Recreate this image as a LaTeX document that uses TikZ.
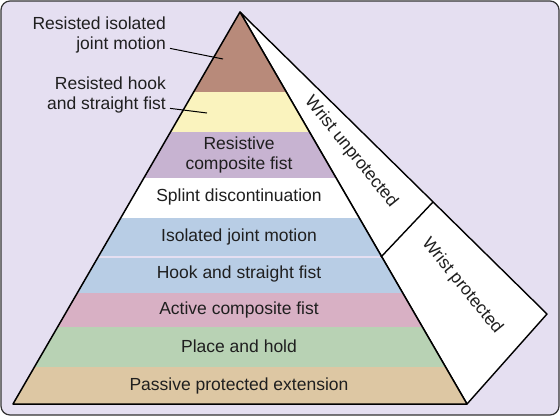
\documentclass[tikz,border=0pt]{standalone}
\usepackage{fontspec}
\setmainfont{Liberation Sans}

\definecolor{bglav}{RGB}{229,223,241}
\definecolor{brownb}{RGB}{184,138,122}
\definecolor{yellowb}{RGB}{250,243,190}
\definecolor{purpleb}{RGB}{199,179,209}
\definecolor{blueb}{RGB}{184,205,229}
\definecolor{pinkb}{RGB}{216,176,196}
\definecolor{greenb}{RGB}{184,210,180}
\definecolor{tanb}{RGB}{221,199,163}

\begin{document}
\begin{tikzpicture}[x=1pt, y=-1pt, font=\fontsize{17.5}{20}\selectfont, text=black!88]
  \useasboundingbox (0,0) rectangle (560,416);
  % frame
  \draw[fill=bglav, draw=black!80, line width=1.2pt, rounded corners=9pt] (1,1) rectangle (559,415);

  % wrist band on the right
  \draw[fill=white, line width=1.4pt, line join=round] (240,12) -- (547,314) -- (467,404) -- cycle;
  \draw[line width=1.4pt] (433,202) -- (381,257);
  \node[rotate=-51] (wunprot) at (351,152) {Wrist unprotected};
  \node[rotate=-51] (wprot) at (462,286) {Wrist protected};

  % bands, top to bottom
  \begin{scope}
    \clip (240,12) -- (467,404) -- (13,404) -- cycle;
    \fill[brownb]  (0,0)   rectangle (560,92);
    \fill[yellowb] (0,92)  rectangle (560,132);
    \fill[purpleb] (0,132) rectangle (560,178);
    \fill[white]   (0,178) rectangle (560,218);
    \fill[blueb]   (0,218) rectangle (560,256);
    \fill[blueb]   (0,258) rectangle (560,293);
    \fill[pinkb]   (0,293) rectangle (560,327);
    \fill[greenb]  (0,327) rectangle (560,367);
    \fill[tanb]    (0,367) rectangle (560,404);
  \end{scope}
  \draw[line width=1.5pt, line join=round] (240,12) -- (467,404) -- (13,404) -- cycle;

  \node[align=center] (rescomp) at (239,155) {Resistive\\composite fist};
  \node (splint) at (239,197) {Splint discontinuation};
  \node (isojoint) at (239,237) {Isolated joint motion};
  \node (hook) at (239,274) {Hook and straight fist};
  \node (actcomp) at (239,310) {Active composite fist};
  \node (place) at (239,346) {Place and hold};
  \node (passive) at (239,386) {Passive protected extension};

  % labels outside, with leader lines
  \node[anchor=east, align=right, inner sep=0pt] (resiso) at (166,35) {Resisted isolated\\joint motion};
  \coordinate (isoend) at (223,59);
  \draw[line width=1pt] ([xshift=4pt,yshift=5pt]resiso.south east) -- (isoend);

  \node[anchor=east, align=right, inner sep=0pt] (reshook) at (166,95) {Resisted hook\\and straight fist};
  \coordinate (hookend) at (207,113);
  \draw[line width=1pt] ([xshift=4pt,yshift=5pt]reshook.south east) -- (hookend);
\end{tikzpicture}
\end{document}
